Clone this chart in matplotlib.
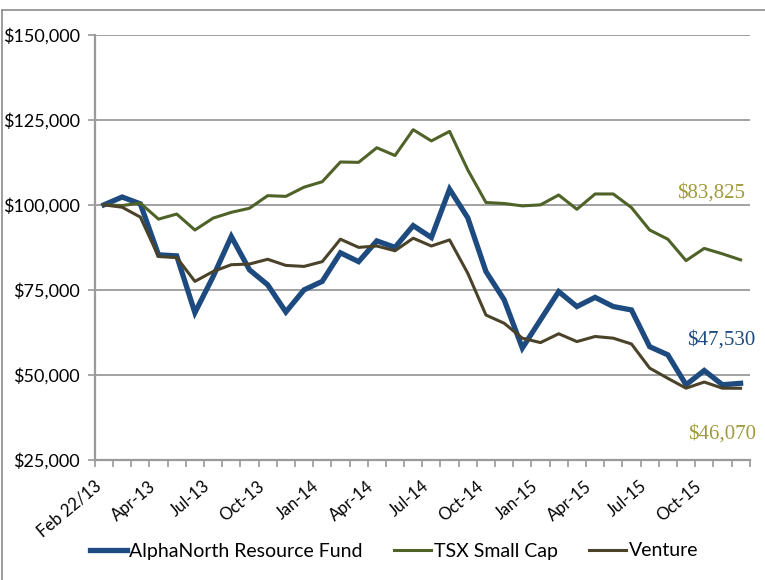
import matplotlib
matplotlib.use("Agg")
import matplotlib.pyplot as plt
import matplotlib.transforms as mtransforms
from matplotlib.lines import Line2D
import numpy as np

# month labels: Feb 22/13 start, then month ends Feb-13 .. Dec-15
months = ["Feb 22/13"]
for yr in (13, 14, 15):
    for m in ["Jan", "Feb", "Mar", "Apr", "May", "Jun", "Jul", "Aug", "Sep", "Oct", "Nov", "Dec"]:
        if yr == 13 and m == "Jan":
            continue
        months.append(f"{m}-{yr}")

fund = [100000, 102300, 100300, 85300, 85000, 68300, 78900, 90700, 80900, 76500,
        68500, 75000, 77500, 85900, 83300, 89400, 87500, 93900, 90400, 104600,
        96200, 80400, 72100, 57900, 66200, 74500, 70100, 72800, 70100, 69100,
        58300, 55900, 47100, 51300, 47100, 47530]
tsx = [100000, 99800, 100500, 95800, 97300, 92600, 96100, 97800, 99000, 102700,
       102500, 105200, 106800, 112600, 112500, 116800, 114500, 122100, 118800, 121600,
       110300, 100700, 100400, 99700, 100000, 102900, 98700, 103200, 103200, 99200,
       92600, 89900, 83600, 87200, 85600, 83825]
venture = [100000, 99300, 96400, 84800, 84500, 77500, 80400, 82400, 82600, 84000,
           82200, 81900, 83300, 89900, 87500, 87900, 86500, 90200, 87900, 89700,
           79900, 67600, 65200, 60800, 59500, 62100, 59800, 61300, 60800, 59100,
           52000, 49000, 46100, 47900, 46100, 46070]

BLUE = "#1d4a7f"
GREEN = "#4f6228"
BROWN = "#4a4329"
GRID = "#9a9a9a"
GOLD = "#a09a3c"
SANS = ["Lato", "DejaVu Sans"]

fig = plt.figure(figsize=(7.65, 5.8), dpi=100, facecolor="white")
ax = fig.add_axes([0.124, 0.207, 0.856, 0.733])

x = np.arange(len(months))
ax.plot(x, fund, color=BLUE, lw=3.8, label="AlphaNorth Resource Fund", solid_joinstyle="miter")
ax.plot(x, tsx, color=GREEN, lw=2.2, label="TSX Small Cap")
ax.plot(x, venture, color=BROWN, lw=2.2, label="Venture")

ax.set_xlim(-0.5, len(months) - 0.5)
ax.set_ylim(25000, 150000)
yt = np.arange(25000, 150001, 25000)
ax.set_yticks(yt)
ax.set_yticklabels([f"${v:,.0f}" for v in yt], family=SANS, fontsize=13)
ax.yaxis.grid(True, color=GRID, lw=1.3)
ax.set_axisbelow(True)

ax.set_xticks(x[::3])
ax.set_xticklabels(months[::3], rotation=40, ha="right", family=SANS, fontsize=12)
shift = mtransforms.ScaledTranslation(11 / 100, 0, fig.dpi_scale_trans)
for lbl in ax.get_xticklabels():
    lbl.set_transform(lbl.get_transform() + shift)
ax.set_xticks(np.arange(-0.5, len(months) + 0.5, 1), minor=True)
ax.tick_params(axis="x", which="major", length=0, pad=13)
ax.tick_params(axis="x", which="minor", length=5, width=1.2, color=GRID, direction="out")
ax.tick_params(axis="y", length=5, width=1.2, color=GRID, direction="out", pad=6)

for s in ("top", "right"):
    ax.spines[s].set_visible(False)
for s in ("left", "bottom"):
    ax.spines[s].set_color(GRID)
    ax.spines[s].set_linewidth(1.6)

# end-value labels
ends = [(tsx[-1], GOLD, (4, 67)), (fund[-1], BLUE, (15, 43)), (venture[-1], GOLD, (15, -46))]
for val, col, off in ends:
    ax.annotate(f"${val:,.0f}", xy=(x[-1], val), xytext=off, textcoords="offset pixels",
                ha="right", va="center", color=col, fontsize=15,
                family="Liberation Serif", annotation_clip=False)

ax.legend(loc="center", bbox_to_anchor=(0.515, 29 / 580), bbox_transform=fig.transFigure,
          ncol=3, frameon=False, prop={"family": SANS, "size": 14},
          handlelength=1.9, handletextpad=0.15, columnspacing=1.6)

# outer frame of the original picture
fig.add_artist(Line2D([2 / 765, 1], [1 - 10 / 580, 1 - 10 / 580], color="#8c8c8c", lw=1.2))
fig.add_artist(Line2D([2 / 765, 2 / 765], [0, 1 - 10 / 580], color="#8c8c8c", lw=1.2))

fig.savefig("out.png", dpi=100, facecolor="white")
